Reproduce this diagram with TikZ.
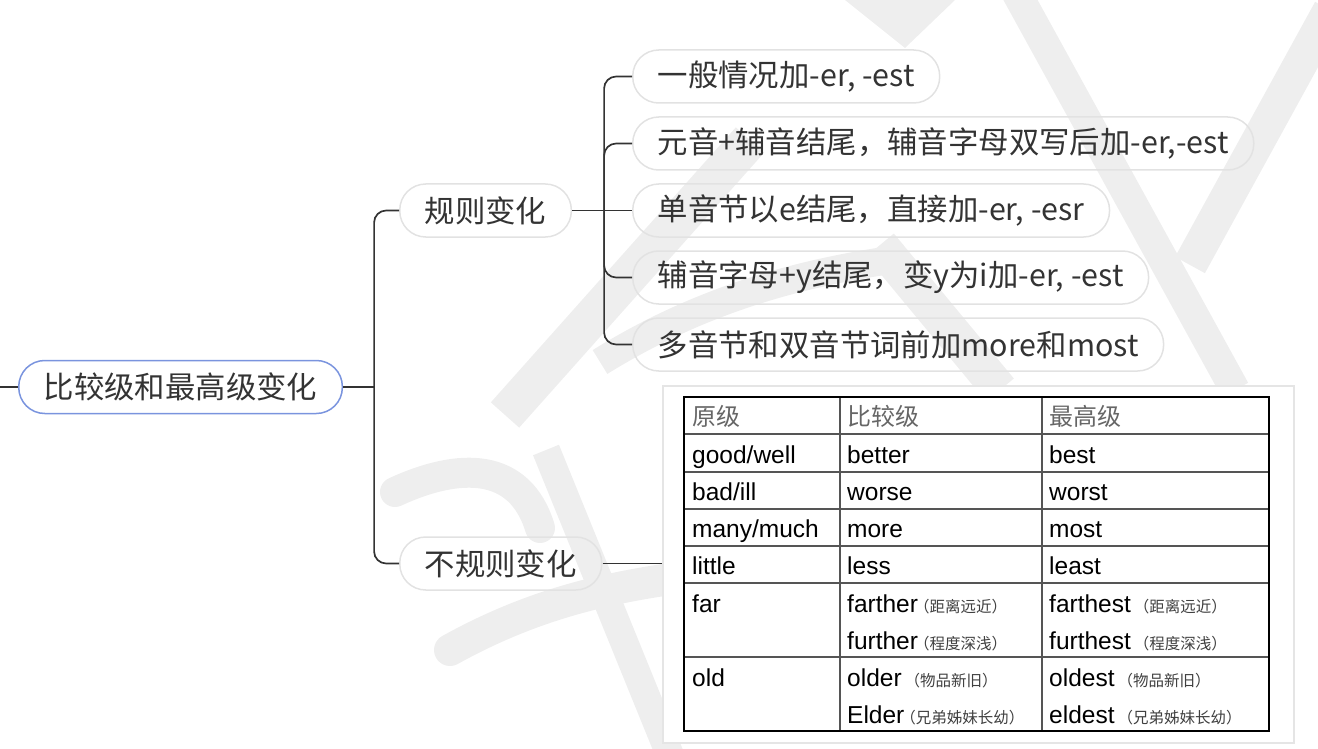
\documentclass[tikz,border=0pt]{standalone}
\usepackage{fontspec}
\setmainfont{Noto Sans CJK SC}
\newfontfamily\cjk{Noto Sans CJK SC}
\newfontfamily\arialf{Liberation Sans}
\usetikzlibrary{calc}
\definecolor{ink}{HTML}{333333}
\definecolor{pillline}{HTML}{E2E2E2}
\definecolor{rootline}{RGB}{122,148,222}
\definecolor{wm}{HTML}{EEEEEE}
\definecolor{gridc}{HTML}{555555}
\newcommand\smallnote[1]{{\cjk\fontsize{15.5}{18}\selectfont\color{black!75}#1}}
\begin{document}
\begin{tikzpicture}[x=1pt,y=-1pt,
  conn/.style={draw=ink, line width=1.7pt},
  pill/.style={draw=pillline, line width=1.5pt, rounded corners=26pt, minimum height=53pt, inner xsep=25pt, inner ysep=0pt, text=ink, font=\fontsize{30.4}{36}\selectfont},
  rootpill/.style={pill, draw=rootline},
  wmark/.style={draw=wm},
  cell/.style={anchor=base west, inner sep=0pt, text=black, font=\arialf\fontsize{24.5}{28}\selectfont},
  hcell/.style={anchor=base west, inner sep=0pt, text=black!60, font=\cjk\fontsize{24}{28}\selectfont},
  tline/.style={draw=gridc, line width=1.2pt}
]
\useasboundingbox (0,0) rectangle (1318,749);
% watermark
\begin{scope}
\clip (0,0) rectangle (1318,749);
\draw[wmark, line width=30pt] (1015,-10) -- (1235,390);
\draw[wmark, line width=34pt] (1330,10) -- (1190,265);
\fill[wm] (845,0) -- (955,0) -- (905,48) -- cycle;
\draw[wmark, line width=38pt] (750,140) -- (505,415);
\draw[wmark, line width=36pt] (880,245) -- (1000,390);
\draw[wmark, line width=28pt] (600,362) .. controls (700,300) and (800,272) .. (905,258);
\draw[wmark, line width=30pt, line cap=round] (395,492) .. controls (460,462) and (520,462) .. (540,528);
\draw[wmark, line width=28pt] (546,450) -- (672,760);
\draw[wmark, line width=32pt, line cap=round] (450,650) .. controls (540,600) and (620,585) .. (700,575);
\end{scope}

% nodes
\node[rootpill, anchor=west] (root) at (18,387) {比较级和最高级变化};
\node[pill, anchor=west] (reg) at (399,210.5) {规则变化};
\node[pill, anchor=west] (irr) at (399,563.5) {不规则变化};
\node[pill, anchor=west] (c1) at (632,76.5) {一般情况加-er, -est};
\node[pill, anchor=west] (c2) at (632,143.5) {元音+辅音结尾，辅音字母双写后加-er,-est};
\node[pill, anchor=west] (c3) at (632,210.5) {单音节以e结尾，直接加-er, -esr};
\node[pill, anchor=west] (c4) at (632,277.5) {辅音字母+y结尾，变y为i加-er, -est};
\node[pill, anchor=west] (c5) at (632,344.5) {多音节和双音节词前加more和most};

% connectors
\coordinate (lstub) at (0,387);
\draw[conn] (lstub) -- (root.west);
\coordinate (t) at ($(root.east)+(31,0)$);
\draw[conn] (root.east) -- (t);
\draw[conn, rounded corners=12pt] (reg.west) -| (t) |- (irr.west);
\coordinate (u) at ($(reg.east)+(32,0)$);
\draw[conn] (reg.east) -- (c3.west);
\draw[conn, rounded corners=12pt] (c1.west) -| (u) |- (c5.west);
\draw[conn, rounded corners=12pt] (u) |- (c2.west);
\draw[conn, rounded corners=12pt] (u) |- (c4.west);

% table
\node[draw=black!10, line width=1.5pt, fill=white, minimum width=631pt, minimum height=357pt, anchor=north west, inner sep=0pt] (tbox) at (662,385) {};
\draw[conn] (irr.east) -- (irr.east -| tbox.west);
\draw[tline] (840,397) -- (840,731);
\draw[tline] (1042,397) -- (1042,731);
\foreach \yy in {434,472,509,546,583,657} {\draw[tline] (684,\yy) -- (1269,\yy);}
\draw[black, line width=2.2pt] (684,397) rectangle (1269,731);

% table text
\node[hcell] (h1) at (692,425) {原级};
\node[hcell] (h2) at (847,425) {比较级};
\node[hcell] (h3) at (1049,425) {最高级};
\node[cell] (a1) at (692,463) {good/well};
\node[cell] (a2) at (847,463) {better};
\node[cell] (a3) at (1049,463) {best};
\node[cell] (b1) at (692,500) {bad/ill};
\node[cell] (b2) at (847,500) {worse};
\node[cell] (b3) at (1049,500) {worst};
\node[cell] (d1) at (692,537) {many/much};
\node[cell] (d2) at (847,537) {more};
\node[cell] (d3) at (1049,537) {most};
\node[cell] (e1) at (692,574) {little};
\node[cell] (e2) at (847,574) {less};
\node[cell] (e3) at (1049,574) {least};
\node[cell] (f1) at (692,612) {far};
\node[cell] (f2) at (847,612) {farther\hspace{-4pt}\smallnote{（距离远近）}};
\node[cell] (f3) at (1049,612) {farthest\hspace{3pt}\smallnote{（距离远近）}};
\node[cell] (g2) at (847,649) {further\hspace{-4pt}\smallnote{（程度深浅）}};
\node[cell] (g3) at (1049,649) {furthest\hspace{3pt}\smallnote{（程度深浅）}};
\node[cell] (o1) at (692,686) {old};
\node[cell] (o2) at (847,686) {older\hspace{3pt}\smallnote{（物品新旧）}};
\node[cell] (o3) at (1049,686) {oldest\hspace{3pt}\smallnote{（物品新旧）}};
\node[cell] (p2) at (847,723) {Elder\hspace{-4pt}\smallnote{（兄弟姊妹长幼）}};
\node[cell] (p3) at (1049,723) {eldest\hspace{3pt}\smallnote{（兄弟姊妹长幼）}};
\end{tikzpicture}
\end{document}
